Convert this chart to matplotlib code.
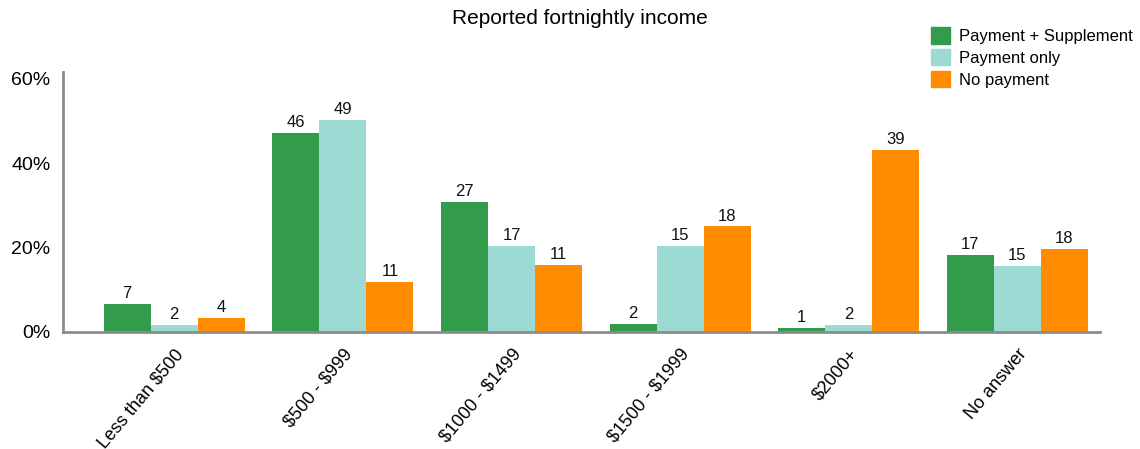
import numpy as np
import matplotlib
matplotlib.use('Agg')
import matplotlib.pyplot as plt
from matplotlib.patches import Patch

plt.rcParams['font.family'] = ['Liberation Sans', 'DejaVu Sans']
plt.rcParams['text.parse_math'] = False

# Data
categories = ['Less than $500', '$500 - $999', '$1000 - $1499', '$1500 - $1999', '$2000+', 'No answer']
series_names = ['Payment + Supplement', 'Payment only', 'No payment']
colors = ['#339c4c', '#9ddad4', '#ff8c00']

# bar heights (percent) as drawn
supp_pct = [6.6, 47.2, 30.7, 1.8, 1.0, 18.2]
only_pct = [1.7, 50.2, 20.3, 20.3, 1.7, 15.6]
none_pct = [3.3, 11.8, 15.8, 25.0, 43.1, 19.7]

# labels printed above bars
supp_lbl = [7, 46, 27, 2, 1, 17]
only_lbl = [2, 49, 17, 15, 2, 15]
none_lbl = [4, 11, 11, 18, 39, 18]

heights = [supp_pct, only_pct, none_pct]
labels = [supp_lbl, only_lbl, none_lbl]

fig = plt.figure(figsize=(11.4, 4.49), dpi=100)
ax = fig.add_axes([63/1140, 1 - 332/449, (1100-63)/1140, (332-72)/449])

x = np.arange(len(categories))
w = 0.279
for i in range(3):
    pos = x + (i - 1) * w
    bars = ax.bar(pos, heights[i], width=w, color=colors[i], label=series_names[i])
    for b, lab in zip(bars, labels[i]):
        ax.text(b.get_x() + b.get_width() / 2, b.get_height() + 0.7, str(lab),
                ha='center', va='bottom', fontsize=12, color='#111111')

ax.set_xlim(-0.66, 5.49)
ax.set_ylim(0, 61.6)
ax.set_yticks([0, 20, 40, 60])
ax.set_yticklabels(['0%', '20%', '40%', '60%'], fontsize=14)
ax.set_xticks(x)
ax.set_xticklabels(categories, rotation=50, ha='right', rotation_mode='anchor', fontsize=13)
ax.tick_params(axis='both', length=0)
ax.tick_params(axis='y', pad=9)
ax.tick_params(axis='x', pad=10)

for s in ['top', 'right']:
    ax.spines[s].set_visible(False)
for s in ['left', 'bottom']:
    ax.spines[s].set_color('#8c8c8c')
    ax.spines[s].set_linewidth(2)

fig.text(580/1140, 1 - 19/449, 'Reported fortnightly income', ha='center', va='center', fontsize=15)

handles = [Patch(color=c) for c in colors]
fig.legend(handles, series_names, loc='upper left', bbox_to_anchor=(931/1140, 1 - 27/449),
           frameon=False, fontsize=12, handlelength=1.15, handleheight=1.15,
           handletextpad=0.55, labelspacing=0.3, borderaxespad=0, borderpad=0)

fig.savefig('out.png', dpi=100)
